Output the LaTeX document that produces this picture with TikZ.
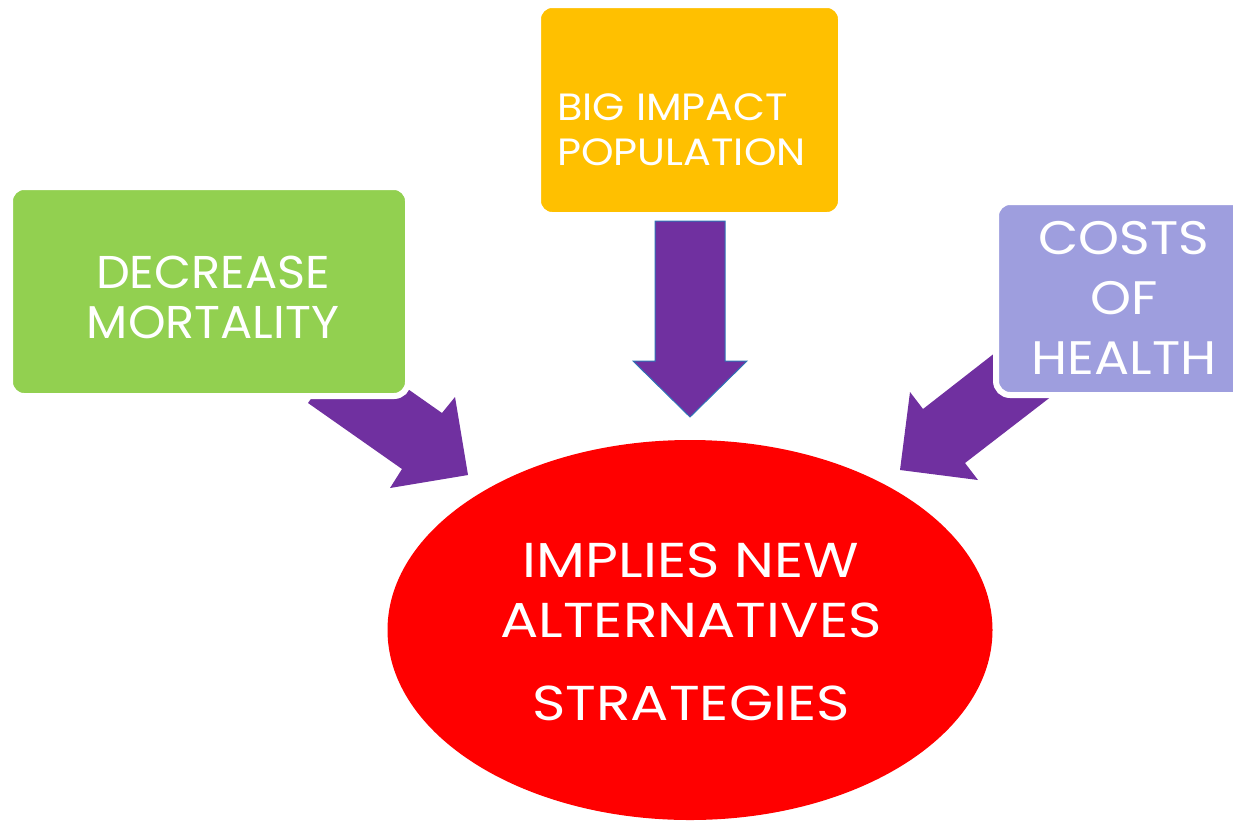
\documentclass[tikz,border=0pt]{standalone}
\usepackage{fontspec}
\setmainfont{Poppins}
\newfontfamily\stretchA[FakeStretch=1.04]{Poppins}
\newfontfamily\stretchB[FakeStretch=1.09]{Poppins}
\newfontfamily\stretchC[FakeStretch=1.11]{Poppins}
\newfontfamily\stretchD[FakeStretch=1.16]{Poppins}
\usetikzlibrary{shapes.geometric}
\definecolor{cgreen}{HTML}{92D050}
\definecolor{cyellow}{HTML}{FFC000}
\definecolor{clav}{HTML}{9E9EDE}
\definecolor{cpurple}{HTML}{7030A0}
\definecolor{cred}{HTML}{FF0000}
\definecolor{cblue}{HTML}{2E75B6}
\tikzset{
  box/.style={draw=white, line width=6pt, rounded corners=14pt, inner sep=0pt},
  blockarrow/.style={fill=cpurple},
  label/.style={text=white, inner sep=0pt},
}
\begin{document}
\begin{tikzpicture}[x=1pt,y=-1pt]
\useasboundingbox (0,0) rectangle (1233,820);
\begin{scope}
\clip (0,0) rectangle (1233,820);
% goal ellipse
\node[ellipse, fill=cred, minimum width=605pt, minimum height=380pt, inner sep=0pt] (goal) at (690,630) {};
% block arrows (drawn beneath the boxes)
\path[blockarrow] (348,347) -- (308,403) -- (402,469) -- (390,488) -- (468,475) -- (455,397) -- (442,413) -- cycle;
\path[blockarrow, draw=cblue, line width=1pt] (655,221) -- (725,221) -- (725,361) -- (747,361) -- (690,417) -- (633,361) -- (655,361) -- cycle;
\path[blockarrow] (1041,317) -- (923,409) -- (910,392) -- (900,470) -- (978,480) -- (965,463) -- (1083,372) -- cycle;
% boxes
\node[box, fill=cgreen, minimum width=398pt, minimum height=209pt] (mort) at (209,291.5) {};
\node[box, fill=cyellow, minimum width=303pt, minimum height=210pt] (pop) at (689.5,110) {};
\node[box, fill=clav, minimum width=266pt, minimum height=193pt] (cost) at (1129,298.5) {};
% labels
\node[label, align=center, font=\stretchA\fontsize{46}{50}\selectfont] (mortlbl) at (213,297) {DECREASE\\MORTALITY};
\node[label, align=left, anchor=west, font=\stretchB\fontsize{38}{45}\selectfont] (poplbl) at (557,129.5) {BIG IMPACT\\POPULATION};
\node[label, align=center, font=\stretchC\fontsize{47}{60}\selectfont] (costlbl) at (1124,298) {COSTS\\OF\\HEALTH};
\node[label, align=center, font=\stretchD\fontsize{49}{60}\selectfont] (goallbl) at (691,631.5) {IMPLIES NEW\\ALTERNATIVES\\[23pt]STRATEGIES};
\end{scope}
\end{tikzpicture}
\end{document}
